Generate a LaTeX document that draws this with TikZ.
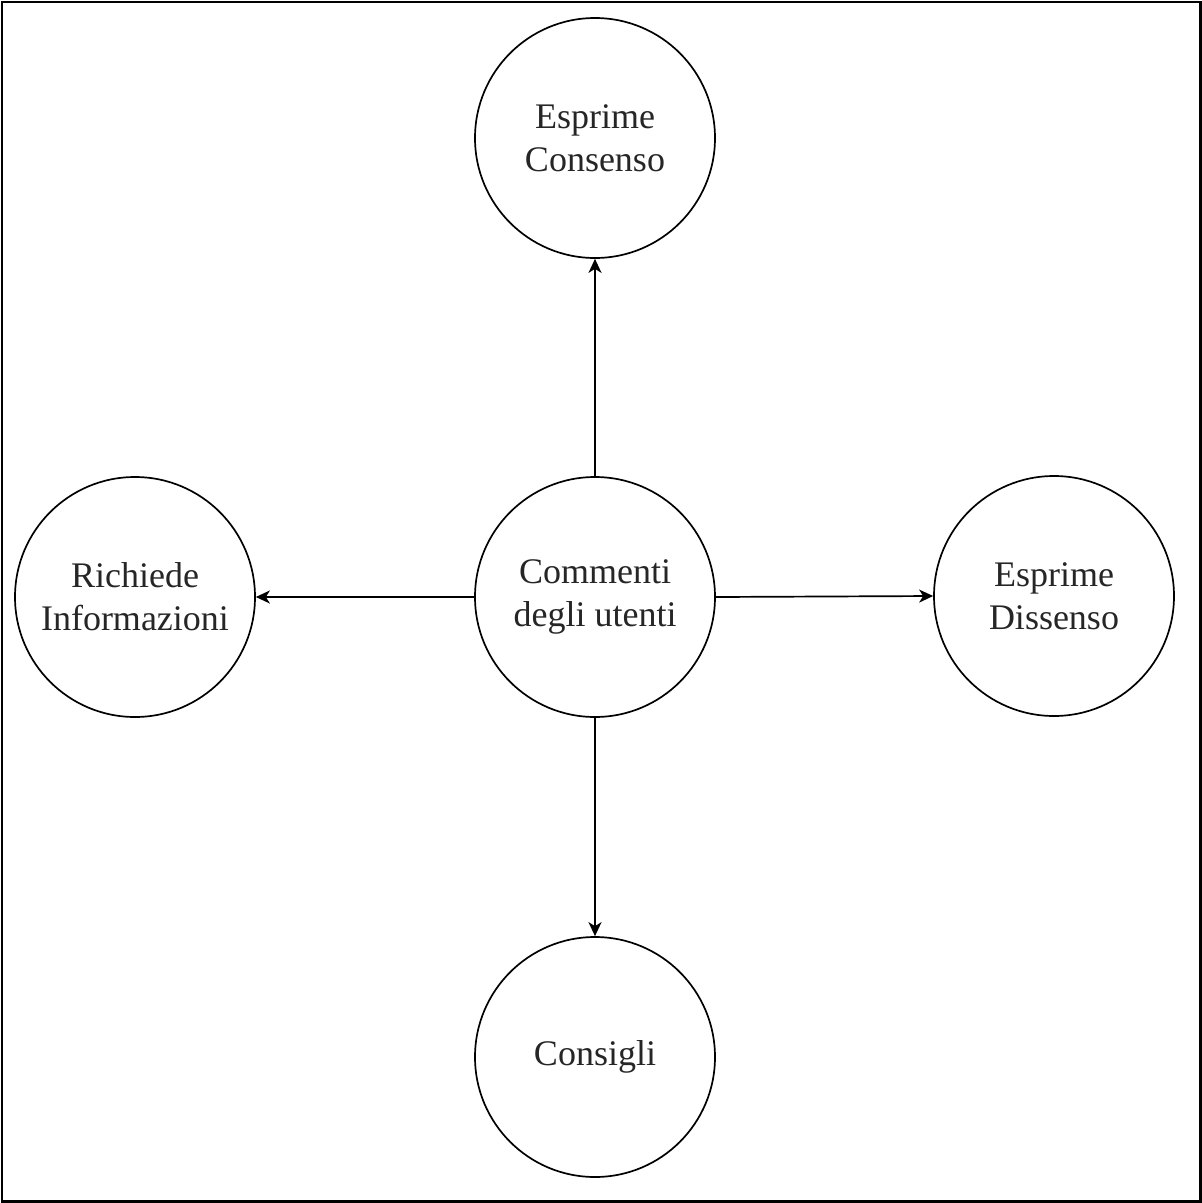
\documentclass[tikz,border=0pt]{standalone}
\usepackage{fontspec}
\setmainfont{Liberation Serif}
\usetikzlibrary{arrows.meta}
\begin{document}
\begin{tikzpicture}[x=1pt,y=-1pt,
  bubble/.style={circle,draw,line width=1.7pt,minimum size=240pt,inner sep=0pt,align=center,
    font=\fontsize{36}{43}\selectfont,text=black!85},
  link/.style={line width=1.7pt,-{Stealth[length=14pt,width=13pt,inset=4pt]}}]
\useasboundingbox (0,0) rectangle (1202,1203);
\draw[line width=2.5pt] (2,2) rectangle (1200.5,1201.5);
\node[bubble] (c) at (595,597) {Commenti\\degli utenti};
\node[bubble] (t) at (595,138) {Esprime\\Consenso};
\node[bubble] (l) at (135,597) {Richiede\\Informazioni};
\node[bubble] (r) at (1054,596) {Esprime\\Dissenso};
\node[bubble] (b) at (595,1057) {Consigli};
\draw[link] (c) -- (t);
\draw[link] (c) -- (l);
\draw[link] (c.east) -- (r.west);
\draw[link] (c) -- (b);
\end{tikzpicture}
\end{document}
